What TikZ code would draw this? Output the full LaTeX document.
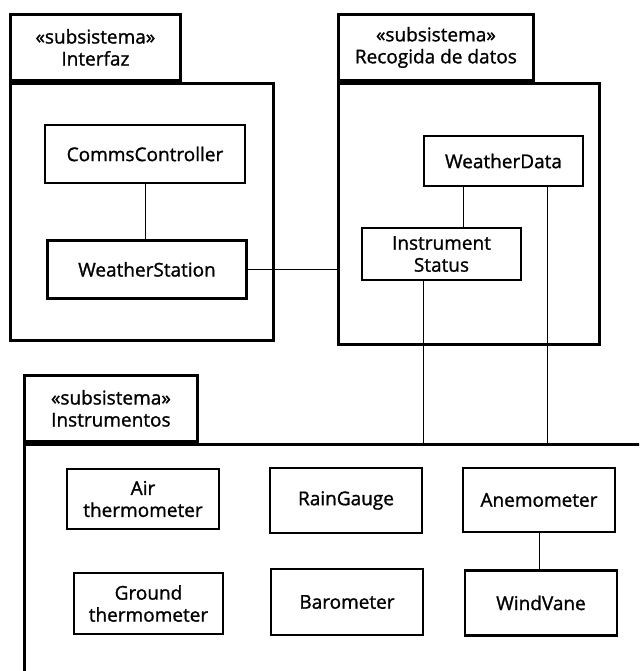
\documentclass[tikz,border=0pt]{standalone}
\usepackage{fontspec}
\setmainfont{Open Sans}[FakeBold=1.2]
\usetikzlibrary{positioning}

\begin{document}
\begin{tikzpicture}[
    x=0.5pt, y=-0.5pt,
    node distance=27.5pt and 20pt,
    every node/.style={font=\fontsize{9.5}{11}\selectfont, align=center, inner sep=2pt},
    tab/.style={rectangle, draw, line width=1.4pt, minimum height=33pt, anchor=north west},
    pkgbody/.style={rectangle, draw, line width=1.4pt, anchor=north west},
    cls/.style={rectangle, draw, line width=1.2pt, minimum width=76pt, minimum height=31pt},
    link/.style={line width=0.5pt}
]
\path[use as bounding box, clip] (0,0) rectangle (639,671);

% Paquetes de subsistemas de la estacion meteorologica.
\node[tab, minimum width=85pt] (ifztab) at (9,13) {«subsistema»\\Interfaz};
\node[pkgbody, minimum width=131.5pt, minimum height=128.5pt] (ifz) at (ifztab.south west) {};

\node[tab, minimum width=97.5pt] (rectab) at (337,13) {«subsistema»\\Recogida de datos};
\node[pkgbody, minimum width=130.5pt, minimum height=130.5pt] (rec) at (rectab.south west) {};

\node[tab, minimum width=86.5pt] (instab) at (23,374) {«subsistema»\\Instrumentos};
\node[pkgbody, minimum width=340pt, minimum height=150pt] (ins) at (instab.south west) {};

\node[cls, minimum width=100pt, minimum height=29pt] (cc) at (145,154) {CommsController};
\node[cls, minimum width=99.5pt, minimum height=29pt, below=27.5pt of cc, xshift=1pt] (ws) {WeatherStation};

\node[cls, minimum width=79.5pt, minimum height=25pt] (wd) at (503.5,161) {WeatherData};
\node[cls, minimum width=79.5pt, minimum height=26pt] (ist) at (441.5,254) {Instrument\\Status};

\node[cls, minimum height=30pt] (airt) at (143,499) {Air\\thermometer};
\node[cls, minimum height=32.5pt] (rain) at (346,500.5) {RainGauge};
\node[cls, minimum height=32pt] (anem) at (539,500) {Anemometer};
\node[cls, minimum width=74.5pt, minimum height=30.5pt] (grt) at (148.5,603.5) {Ground\\thermometer};
\node[cls, minimum height=33pt] (baro) at (347,602) {Barometer};
\node[cls, minimum height=32.5pt, below=18pt of anem, xshift=1pt] (vane) {WindVane};

\draw[link] (cc.south) -- (cc.south |- ws.north);
\draw[link] (ws.east) -- (ws.east -| rec.west);
\draw[link] ([xshift=-20pt]wd.south) -- ([xshift=-20pt]wd.south |- ist.north);
\draw[link] ([xshift=-9pt]ist.south) -- ([xshift=-9pt]ist.south |- ins.north);
\draw[link] ([xshift=22pt]wd.south) -- ([xshift=22pt]wd.south |- ins.north);
\draw[link] (anem.south) -- (anem.south |- vane.north);
\end{tikzpicture}
\end{document}
